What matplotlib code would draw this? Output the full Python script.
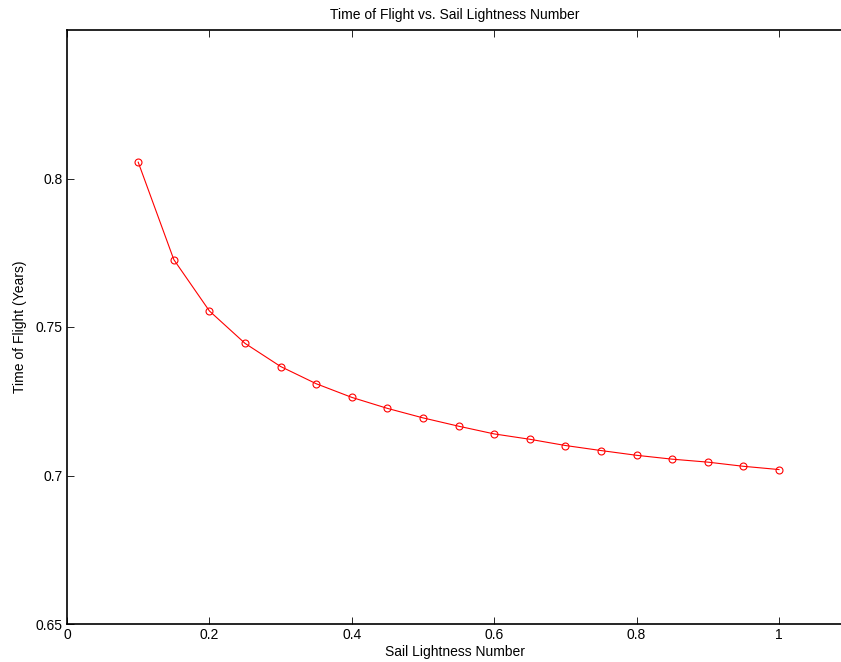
import matplotlib
matplotlib.use('Agg')
import matplotlib.pyplot as plt

# datos
sail_lightness = [0.1, 0.15, 0.2, 0.25, 0.3, 0.35, 0.4, 0.45, 0.5, 0.55,
                  0.6, 0.65, 0.7, 0.75, 0.8, 0.85, 0.9, 0.95, 1.0]
tof_years = [0.8055, 0.7727, 0.7554, 0.7445, 0.7367, 0.7309, 0.7263, 0.7226,
             0.7194, 0.7166, 0.7140, 0.7122, 0.7101, 0.7084, 0.7068, 0.7055,
             0.7045, 0.7031, 0.7020]

plt.rcParams['font.family'] = ['Liberation Sans', 'DejaVu Sans']

fig = plt.figure(figsize=(8.41, 6.62), dpi=100)
# el borde derecho de los ejes queda justo fuera de la imagen
ax = fig.add_axes([67/841, 38/662, 776/841, 594/662])

ax.plot(sail_lightness, tof_years, color='red', linewidth=0.8,
        marker='o', markersize=5, markerfacecolor='none',
        markeredgecolor='red', markeredgewidth=0.8)

ax.set_xlim(0, 776/712)
ax.set_ylim(0.65, 0.85)
ax.set_xticks([0, 0.2, 0.4, 0.6, 0.8, 1.0])
ax.set_xticklabels(['0', '0.2', '0.4', '0.6', '0.8', '1'])
ax.set_yticks([0.65, 0.7, 0.75, 0.8])
ax.set_yticklabels(['0.65', '0.7', '0.75', '0.8'])
ax.tick_params(direction='in', length=5, width=0.6, labelsize=10,
               top=True, right=False, pad=3)
for s in ax.spines.values():
    s.set_linewidth(1.2)

ax.set_title('Time of Flight vs. Sail Lightness Number', fontsize=10, pad=8)
ax.set_xlabel('Sail Lightness Number', fontsize=10, labelpad=2)
ax.set_ylabel('Time of Flight (Years)', fontsize=10, labelpad=6)

fig.savefig('out.png', dpi=100)
